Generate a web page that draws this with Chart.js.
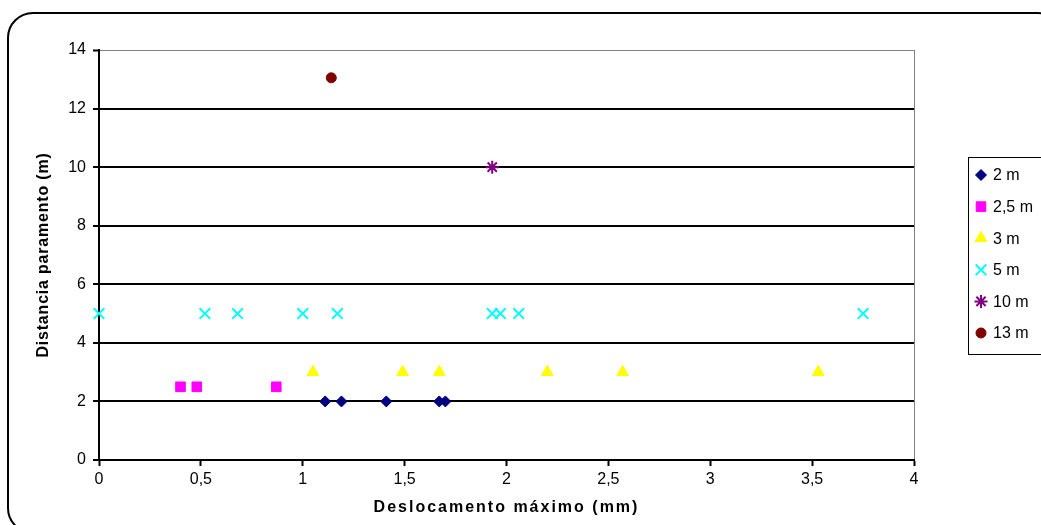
<!DOCTYPE html>
<html>
<head>
<meta charset="utf-8">
<script src="https://cdn.jsdelivr.net/npm/chart.js@4"></script>
<style>
  body { margin: 0; background: #fff; }
  #wrap { width: 1041px; height: 525px; position: relative; }
</style>
</head>
<body>
<div id="wrap"><canvas id="scatterChart"></canvas></div>
<script>
// values (x = deslocamento mm, y = distancia m)
const seriesLabels = ['2 m', '2,5 m', '3 m', '5 m', '10 m', '13 m'];
const x2 = [1.11, 1.19, 1.41, 1.67, 1.70];
const y2 = [2, 2, 2, 2, 2];
const x25 = [0.40, 0.48, 0.87];
const y25 = [2.5, 2.5, 2.5];
const x3 = [1.05, 1.49, 1.67, 2.20, 2.57, 3.53];
const y3 = [3, 3, 3, 3, 3, 3];
const x5 = [0, 0.52, 0.68, 1.00, 1.17, 1.93, 1.97, 2.06, 3.75];
const y5 = [5, 5, 5, 5, 5, 5, 5, 5, 5];
const x10 = [1.93];
const y10 = [10];
const x13 = [1.14];
const y13 = [13.05];
const xTicks = [0, 0.5, 1, 1.5, 2, 2.5, 3, 3.5, 4];
const yTicks = [0, 2, 4, 6, 8, 10, 12, 14];

const pts = (xs, ys) => xs.map((v, i) => ({ x: v, y: ys[i] }));
const FONT = '"Liberation Sans", Arial, sans-serif';

// the Excel titles are drawn with wide letter spacing
function spaceTitle(axis, sp) {
  if (axis._spaced) return;
  const orig = axis.drawTitle.bind(axis);
  axis.drawTitle = function (...a) {
    const c = this.ctx;
    c.save();
    c.letterSpacing = sp;
    orig(...a);
    c.restore();
  };
  axis._spaced = true;
}

const ctx = document.getElementById('scatterChart');

// outer rounded frame
const framePlugin = {
  id: 'frame',
  beforeDraw(chart) {
    const c = chart.ctx;
    c.save();
    c.fillStyle = '#fff';
    c.fillRect(0, 0, chart.width, chart.height);
    c.strokeStyle = '#000';
    c.lineWidth = 2;
    c.beginPath();
    c.roundRect(8, 13, 1055, 520, 25);
    c.stroke();
    c.restore();
  }
};

// boxed legend on the right, drawn with the datasets' own point styles
const legendPlugin = {
  id: 'boxLegend',
  afterDraw(chart) {
    const c = chart.ctx;
    c.save();
    c.strokeStyle = '#000';
    c.lineWidth = 1;
    c.strokeRect(968.5, 157.5, 90, 197);
    c.font = '16px ' + FONT;
    c.textBaseline = 'middle';
    chart.data.datasets.forEach((ds, i) => {
      const y = 175 + i * 31.6;
      c.fillStyle = ds.backgroundColor;
      c.strokeStyle = ds.borderColor;
      c.lineWidth = ds.borderWidth;
      Chart.helpers.drawPoint(c, {
        pointStyle: ds.pointStyle,
        radius: ds.pointRadius,
        rotation: 0,
        borderWidth: ds.borderWidth
      }, 981, y);
      c.fillStyle = '#000';
      c.fillText(ds.label, 993, y + 1);
    });
    c.restore();
  }
};

const config = {
  type: 'scatter',
  data: {
    datasets: [
      { label: seriesLabels[0], data: pts(x2, y2), pointStyle: 'rectRot', pointRadius: 5.5,
        backgroundColor: '#000080', borderColor: '#000080', borderWidth: 1 },
      { label: seriesLabels[1], data: pts(x25, y25), pointStyle: 'rect', pointRadius: 6.8,
        backgroundColor: '#ff00ff', borderColor: '#ff00ff', borderWidth: 1 },
      { label: seriesLabels[2], data: pts(x3, y3), pointStyle: 'triangle', pointRadius: 6.8,
        backgroundColor: '#ffff00', borderColor: '#ffff00', borderWidth: 1 },
      { label: seriesLabels[3], data: pts(x5, y5), pointStyle: 'crossRot', pointRadius: 7.5,
        backgroundColor: '#00ffff', borderColor: '#00ffff', borderWidth: 2 },
      { label: seriesLabels[4], data: pts(x10, y10), pointStyle: 'star', pointRadius: 6.5,
        backgroundColor: '#800080', borderColor: '#800080', borderWidth: 2 },
      { label: seriesLabels[5], data: pts(x13, y13), pointStyle: 'circle', pointRadius: 5,
        backgroundColor: '#800000', borderColor: '#800000', borderWidth: 1 }
    ]
  },
  options: {
    responsive: true,
    maintainAspectRatio: false,
    animation: false,
    clip: false,
    layout: {
      padding: { left: 30, top: 50, right: 127, bottom: 5 }
    },
    font: { family: FONT },
    scales: {
      x: {
        type: 'linear',
        min: 0,
        max: 4,
        afterFit: (axis) => { axis.height = 60; spaceTitle(axis, '2px'); },
        afterBuildTicks: (axis) => { axis.ticks = xTicks.map(v => ({ value: v })); },
        border: { display: true, color: '#000', width: 2 },
        grid: {
          drawOnChartArea: true,
          color: (c) => c.tick && c.tick.value === 4 ? '#808080' : 'rgba(0,0,0,0)',
          lineWidth: 1,
          tickColor: '#000',
          tickWidth: 2,
          tickLength: 6
        },
        ticks: {
          color: '#000',
          padding: 4,
          maxRotation: 0,
          font: { size: 16, family: FONT },
          callback: (v) => String(v).replace('.', ',')
        },
        title: {
          display: true,
          text: 'Deslocamento máximo (mm)',
          color: '#000',
          font: { size: 16, weight: 'bold', family: FONT },
          padding: { top: 2, bottom: 3 }
        }
      },
      y: {
        type: 'linear',
        min: 0,
        max: 14,
        afterFit: (axis) => { axis.width = 69; spaceTitle(axis, '0.8px'); },
        afterBuildTicks: (axis) => { axis.ticks = yTicks.map(v => ({ value: v })); },
        border: { display: true, color: '#000', width: 2 },
        grid: {
          color: (c) => c.tick && c.tick.value === 14 ? '#808080' : '#000',
          lineWidth: (c) => c.tick && c.tick.value === 14 ? 1 : 2,
          tickColor: '#000',
          tickWidth: 2,
          tickLength: 6
        },
        ticks: {
          color: '#000',
          padding: 7,
          font: { size: 16, family: FONT }
        },
        title: {
          display: true,
          text: 'Distancia paramento (m)',
          color: '#000',
          font: { size: 16, weight: 'bold', family: FONT },
          padding: { top: 4, bottom: 4 }
        }
      }
    },
    plugins: {
      legend: { display: false },
      tooltip: { enabled: false }
    }
  },
  plugins: [framePlugin, legendPlugin]
};

new Chart(ctx, config);
</script>
</body>
</html>
